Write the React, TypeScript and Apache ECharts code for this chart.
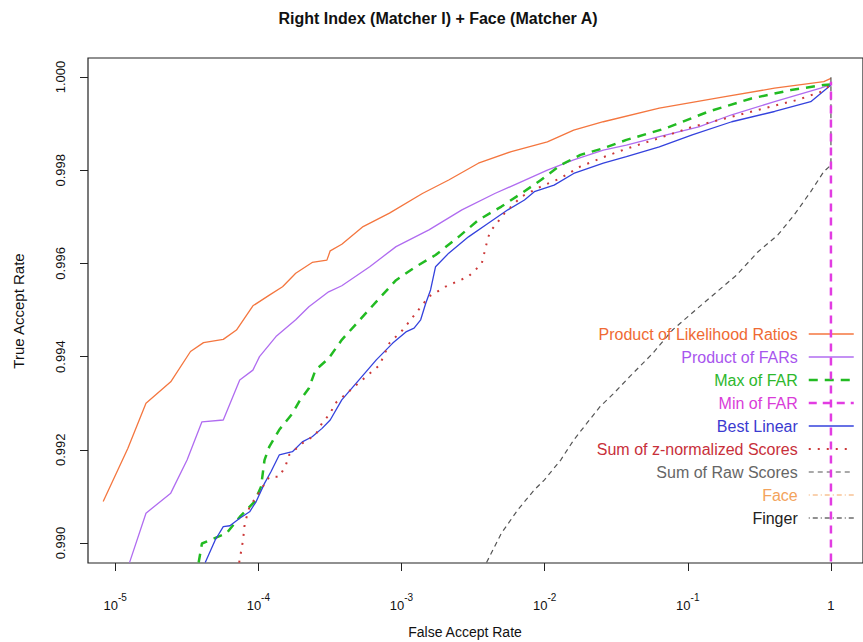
import React, { useEffect, useRef } from "react";
import * as echarts from "echarts";

// ---- Data (x values are log10 of the False Accept Rate) ----
const seriesNames = [
  "Product of Likelihood Ratios",
  "Product of FARs",
  "Max of FAR",
  "Min of FAR",
  "Best Linear",
  "Sum of z-normalized Scores",
  "Sum of Raw Scores",
  "Face",
  "Finger",
];

const xTickExponents = [-5, -4, -3, -2, -1, 0];
const yTicks = [0.99, 0.992, 0.994, 0.996, 0.998, 1.0];

const plrLogFar = [-5.084, -4.912, -4.785, -4.612, -4.474, -4.383, -4.245, -4.153, -4.038, -3.923, -3.831, -3.739, -3.624, -3.521, -3.498, -3.417, -3.268, -3.084, -2.854, -2.67, -2.463, -2.233, -1.981, -1.797, -1.59, -1.199, -0.739, -0.394, -0.05, 0];
const plrTar = [0.99089, 0.99203, 0.993, 0.99346, 0.99411, 0.9943, 0.99437, 0.99457, 0.99509, 0.99532, 0.9955, 0.99579, 0.99602, 0.99607, 0.99627, 0.99641, 0.99679, 0.99708, 0.9975, 0.99779, 0.99815, 0.9984, 0.99861, 0.99886, 0.99904, 0.99933, 0.99958, 0.99976, 0.9999, 0.99997];

const prodFarLogFar = [-4.9, -4.785, -4.612, -4.498, -4.394, -4.245, -4.13, -4.038, -3.992, -3.877, -3.739, -3.647, -3.509, -3.417, -3.222, -3.038, -2.808, -2.578, -2.348, -2.164, -1.981, -1.797, -1.59, -1.429, -1.199, -0.923, -0.693, -0.394, -0.072, 0];
const prodFarTar = [0.98958, 0.99064, 0.99107, 0.99178, 0.9926, 0.99264, 0.9935, 0.99371, 0.994, 0.99443, 0.99479, 0.99507, 0.99539, 0.99552, 0.99593, 0.99636, 0.99672, 0.99715, 0.9975, 0.99775, 0.998, 0.99822, 0.99843, 0.99854, 0.99872, 0.99893, 0.99919, 0.99947, 0.99976, 0.99984];

const maxFarLogFar = [-4.417, -4.394, -4.222, -4.13, -4.026, -3.981, -3.957, -3.923, -3.854, -3.762, -3.716, -3.647, -3.601, -3.509, -3.417, -3.164, -3.038, -2.9, -2.762, -2.601, -2.463, -2.302, -2.164, -2.026, -1.888, -1.75, -1.59, -1.429, -1.153, -0.854, -0.555, -0.279, -0.05, 0];
const maxFarTar = [0.98958, 0.98999, 0.99021, 0.99056, 0.99089, 0.99121, 0.99178, 0.99207, 0.99243, 0.99278, 0.99303, 0.99332, 0.99371, 0.99396, 0.99436, 0.99522, 0.99564, 0.99593, 0.99618, 0.99657, 0.99693, 0.99722, 0.9975, 0.99779, 0.99811, 0.99833, 0.99847, 0.99865, 0.9989, 0.99926, 0.99954, 0.99972, 0.99983, 0.99984];

const minFarLogFar = [0, 0];
const minFarTar = [0.989, 0.9999];

const bestLinearLogFar = [-4.371, -4.302, -4.245, -4.199, -4.13, -4.061, -4.015, -3.957, -3.912, -3.854, -3.762, -3.693, -3.624, -3.555, -3.498, -3.417, -3.176, -3.061, -2.969, -2.912, -2.866, -2.831, -2.797, -2.762, -2.67, -2.532, -2.394, -2.257, -2.141, -2.072, -1.934, -1.797, -1.59, -1.429, -1.199, -0.969, -0.693, -0.394, -0.141, 0];
const bestLinearTar = [0.98958, 0.99006, 0.99035, 0.99037, 0.99053, 0.99067, 0.99089, 0.99128, 0.99153, 0.99189, 0.99196, 0.99217, 0.99228, 0.99246, 0.99264, 0.99307, 0.99393, 0.99429, 0.99453, 0.99461, 0.99479, 0.99514, 0.99543, 0.99593, 0.99622, 0.99657, 0.99686, 0.99715, 0.99736, 0.99754, 0.99768, 0.99793, 0.99815, 0.99829, 0.9985, 0.99876, 0.99904, 0.99926, 0.99947, 0.99983];

const sumZLogFar = [-4.134, -4.107, -4.095, -4.061, -4.015, -3.969, -3.923, -3.854, -3.808, -3.785, -3.693, -3.601, -3.555, -3.498, -3.463, -3.153, -3.084, -2.992, -2.877, -2.808, -2.693, -2.532, -2.44, -2.394, -2.371, -2.279, -2.164, -2.026, -1.888, -1.75, -1.59, -1.429, -1.199, -0.969, -0.739, -0.463, -0.233, -0.072, 0];
const sumZTar = [0.98958, 0.99006, 0.99042, 0.99078, 0.99099, 0.99121, 0.99142, 0.99142, 0.99167, 0.99189, 0.99214, 0.99232, 0.99257, 0.99278, 0.993, 0.99382, 0.99429, 0.99457, 0.99502, 0.99529, 0.9955, 0.99572, 0.99599, 0.99657, 0.99672, 0.99708, 0.99743, 0.99765, 0.99783, 0.99808, 0.99828, 0.99846, 0.99869, 0.99893, 0.99911, 0.99933, 0.99951, 0.99968, 0.99983];

const sumRawLogFar = [-2.406, -2.302, -2.188, -2.072, -2.003, -1.888, -1.797, -1.705, -1.612, -1.521, -1.406, -1.245, -1.107, -0.946, -0.797, -0.659, -0.509, -0.371, -0.257, -0.141, -0.05, 0, 0];
const sumRawTar = [0.98958, 0.99021, 0.99071, 0.99114, 0.99135, 0.99178, 0.99221, 0.99257, 0.99293, 0.9932, 0.99357, 0.99407, 0.99457, 0.995, 0.99539, 0.99575, 0.99625, 0.99661, 0.99704, 0.99754, 0.99797, 0.99811, 1.0];

const faceLogFar: number[] = [];
const faceTar: number[] = [];
const fingerLogFar: number[] = [];
const fingerTar: number[] = [];

// ---- Styles ----
const lineColors = ["#F4763F", "#B06CF0", "#22BB22", "#E23CE2", "#3442DD", "#CC3838", "#555555", "#F4A460", "#222222"];
const textColors = ["#EF6A33", "#A855EE", "#2DB82D", "#D93CD9", "#3A3AD0", "#C8303A", "#666666", "#F3A35C", "#222222"];
const lineWidths = [1.3, 1.3, 2.5, 2.5, 1.3, 2, 1.2, 1.2, 1.2];
const lineTypes: any[] = ["solid", "solid", [9, 7], [8, 6], "solid", [2, 7], [5, 4], [1, 3, 5, 3], [1, 3, 5, 3]];
const seriesZ = [2, 2, 2, 4, 2, 2, 2, 2, 2];

const FONT = "'Liberation Sans', Arial, Helvetica, sans-serif";

const X_MIN = -5.19;
const X_MAX = 0.224;
const Y_MIN = 0.989571;
const Y_MAX = 1.000408;

function zip(xs: number[], ys: number[]): number[][] {
  return xs.map((x, i) => [x, ys[i]]);
}

const seriesData = [
  zip(plrLogFar, plrTar),
  zip(prodFarLogFar, prodFarTar),
  zip(maxFarLogFar, maxFarTar),
  zip(minFarLogFar, minFarTar),
  zip(bestLinearLogFar, bestLinearTar),
  zip(sumZLogFar, sumZTar),
  zip(sumRawLogFar, sumRawTar),
  zip(faceLogFar, faceTar),
  zip(fingerLogFar, fingerTar),
];

export default function App() {
  const ref = useRef<HTMLDivElement>(null);
  useEffect(() => {
    if (!ref.current) return;
    const chart = echarts.init(ref.current, null, { renderer: "svg" });
    chart.setOption({
      animation: false,
      backgroundColor: "#ffffff",
      textStyle: { fontFamily: FONT },
      grid: {
        left: 88,
        top: 58,
        width: 785,
        height: 505,
        show: true,
        borderColor: "#222",
        borderWidth: 1.2,
        backgroundColor: "transparent",
      },
      xAxis: {
        type: "value",
        min: X_MIN,
        max: X_MAX,
        position: "bottom",
        axisLine: { show: false, onZero: false },
        splitLine: { show: false },
        axisTick: {
          show: true,
          customValues: xTickExponents,
          length: 8,
          lineStyle: { color: "#222", width: 1 },
        },
        axisLabel: {
          customValues: xTickExponents,
          margin: 29,
          color: "#111",
          fontFamily: FONT,
          formatter: (v: number) => (Math.abs(v) < 1e-9 ? "{b|1}" : "{b|10}{s|" + Math.round(v) + "}"),
          rich: {
            b: { fontSize: 13, fontFamily: FONT, color: "#111", verticalAlign: "bottom", lineHeight: 20 },
            s: { fontSize: 10, fontFamily: FONT, color: "#111", verticalAlign: "top", lineHeight: 20 },
          },
        },
      },
      yAxis: {
        type: "value",
        min: Y_MIN,
        max: Y_MAX,
        position: "left",
        axisLine: { show: false, onZero: false },
        splitLine: { show: false },
        axisTick: {
          show: true,
          customValues: yTicks,
          length: 8,
          lineStyle: { color: "#222", width: 1 },
        },
        axisLabel: {
          customValues: yTicks,
          rotate: 90,
          margin: 21,
          fontSize: 13,
          color: "#111",
          fontFamily: FONT,
          formatter: (v: number) => v.toFixed(3),
        },
      },
      legend: {
        orient: "vertical",
        right: 3,
        top: 321,
        align: "right",
        itemWidth: 45,
        itemHeight: 14,
        itemGap: 7,
        lineStyle: { width: "inherit" },
        itemStyle: { opacity: 0, borderWidth: 0 },
        textStyle: { fontSize: 16, fontFamily: FONT, padding: [0, 6, 0, 0] },
        data: seriesNames.map((n, i) => ({ name: n, textStyle: { color: textColors[i] } })),
      },
      graphic: [
        {
          type: "text",
          x: 438,
          y: 18,
          style: {
            text: "Right Index (Matcher I) + Face (Matcher A)",
            fontSize: 16,
            fontWeight: "bold",
            fontFamily: FONT,
            fill: "#111",
            textAlign: "center",
            textVerticalAlign: "middle",
          },
        },
        {
          type: "text",
          x: 465,
          y: 632,
          style: {
            text: "False Accept Rate",
            fontSize: 14,
            fontFamily: FONT,
            fill: "#111",
            textAlign: "center",
            textVerticalAlign: "middle",
          },
        },
        {
          type: "text",
          x: 18,
          y: 311,
          rotation: Math.PI / 2,
          style: {
            text: "True Accept Rate",
            fontSize: 15,
            fontFamily: FONT,
            fill: "#111",
            textAlign: "center",
            textVerticalAlign: "middle",
          },
        },
      ],
      series: seriesNames.map((name, i) => ({
        name,
        type: "line",
        data: seriesData[i],
        symbol: "none",
        showSymbol: false,
        clip: true,
        z: seriesZ[i],
        color: lineColors[i],
        lineStyle: { color: lineColors[i], width: lineWidths[i], type: lineTypes[i] },
        emphasis: { disabled: true },
      })),
    });
    return () => chart.dispose();
  }, []);
  return (
    <div
      ref={ref}
      style={{ position: "fixed", left: 0, top: 0, width: 863, height: 642, background: "#fff" }}
    />
  );
}
